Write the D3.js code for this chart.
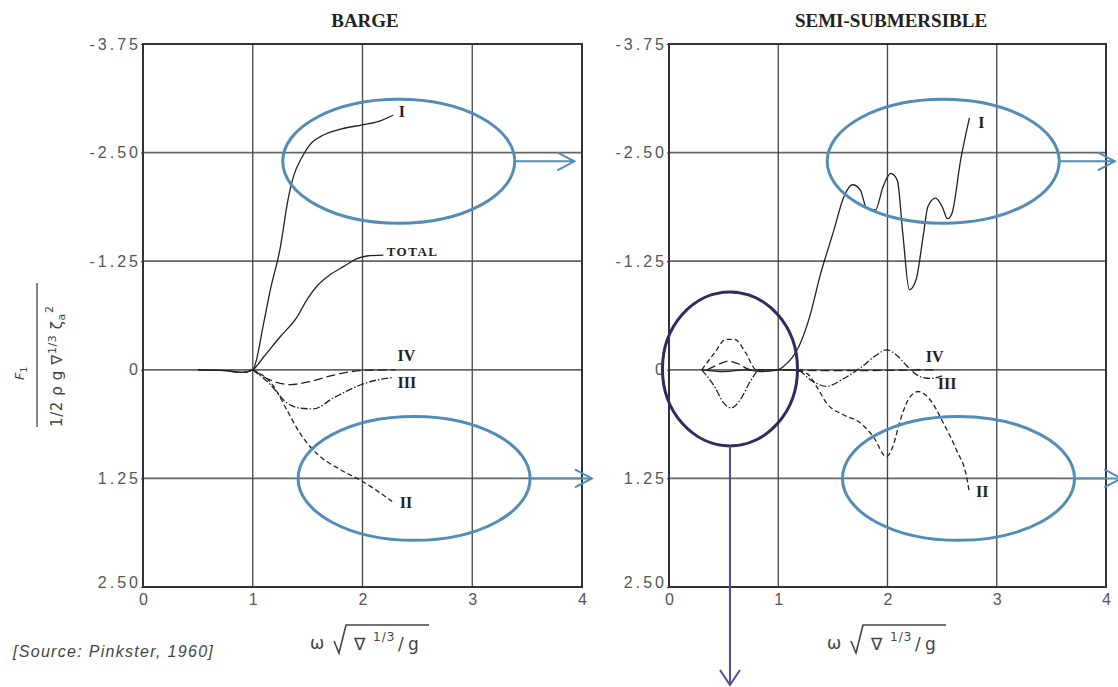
<!DOCTYPE html>
<html>
<head>
<meta charset="utf-8">
<script src="https://cdn.jsdelivr.net/npm/d3@7"></script>
<style>
  body { margin: 0; background: #fff; }
  svg { display: block; }
</style>
</head>
<body>
<div id="chart"></div>
<script>
// ---- axis ticks ----
const xTicks = [0, 1, 2, 3, 4];
const yTicks = [-3.75, -2.5, -1.25, 0, 1.25, 2.5];
const yTickLabels = ["-3.75", "-2.50", "-1.25", "0", "1.25", "2.50"];

// ---- BARGE curves [omega, F] ----
const bargeI = [[0.5, 0], [0.75, 0.01], [0.9, 0.03], [1.0, 0], [1.1, -0.54], [1.16, -0.92], [1.25, -1.4],
  [1.32, -1.95], [1.37, -2.22], [1.45, -2.45], [1.52, -2.59], [1.64, -2.7], [1.8, -2.77], [2.0, -2.82],
  [2.15, -2.86], [2.28, -2.93]];
const bargeTotal = [[0.5, 0], [0.75, 0.01], [0.9, 0.03], [1.0, 0], [1.1, -0.15], [1.25, -0.38], [1.4, -0.6],
  [1.5, -0.82], [1.59, -0.97], [1.7, -1.09], [1.83, -1.19], [1.95, -1.28], [2.04, -1.31], [2.19, -1.32]];
const bargeII = [[1.0, 0], [1.19, 0.19], [1.31, 0.46], [1.43, 0.73], [1.58, 0.96], [1.8, 1.15], [2.0, 1.285], [2.27, 1.515]];
const bargeIII = [[1.0, 0], [1.16, 0.17], [1.31, 0.38], [1.43, 0.44], [1.55, 0.45], [1.74, 0.32], [1.98, 0.175],
  [2.16, 0.11], [2.28, 0.09]];
const bargeIV = [[1.0, 0], [1.13, 0.1], [1.34, 0.17], [1.52, 0.135], [1.74, 0.06], [1.98, 0.01], [2.3, 0]];

// ---- SEMI-SUBMERSIBLE curves ----
const semiI = [[0.3, 0], [0.5, 0.02], [0.7, 0], [0.85, 0.02], [1.0, 0], [1.05, -0.04], [1.19, -0.27], [1.29, -0.62],
  [1.38, -1.07], [1.51, -1.61], [1.6, -1.99], [1.68, -2.13], [1.75, -2.07], [1.81, -1.86], [1.89, -1.84],
  [1.96, -2.11], [2.03, -2.26], [2.09, -2.18], [2.14, -1.57], [2.2, -0.92], [2.26, -1.03], [2.33, -1.57],
  [2.37, -1.88], [2.44, -1.975], [2.5, -1.88], [2.55, -1.74], [2.59, -1.8], [2.67, -2.42], [2.75, -2.9]];
const semiII = [[0.3, 0], [0.42, -0.2], [0.52, -0.35], [0.6, -0.35], [0.7, -0.2], [0.8, 0], [1.1, 0], [1.26, 0.04],
  [1.35, 0.19], [1.44, 0.38], [1.6, 0.52], [1.75, 0.61], [1.87, 0.77], [1.99, 1.0], [2.05, 0.88], [2.11, 0.61],
  [2.19, 0.345], [2.28, 0.25], [2.39, 0.345], [2.51, 0.61], [2.63, 0.92], [2.73, 1.27], [2.75, 1.42]];
const semiIII = [[0.3, 0], [0.42, 0.2], [0.5, 0.38], [0.57, 0.44], [0.65, 0.35], [0.75, 0.12], [0.83, 0], [1.17, 0],
  [1.3, 0.12], [1.44, 0.19], [1.6, 0.1], [1.75, -0.02], [1.9, -0.17], [1.99, -0.23], [2.1, -0.15], [2.18, -0.04],
  [2.3, 0.08], [2.4, 0.1], [2.5, 0.07]];
const semiIV = [[0.35, 0], [0.45, -0.06], [0.54, -0.1], [0.63, -0.07], [0.75, 0], [1.0, 0], [1.5, 0.01], [2.45, 0]];

// line styles
const dashes = { solid: null, II: "5,3", III: "7,2,1.5,2", IV: "9,4" };

const W = 1118, H = 687;
const svg = d3.select("#chart").append("svg").attr("width", W).attr("height", H);

const y = d3.scaleLinear().domain([-3.75, 2.5]).range([44, 587]);

const serif = "Liberation Serif, Times New Roman, serif";
const sans = "Liberation Sans, Arial, sans-serif";

const panels = [
  {
    title: "BARGE", left: 143, right: 582, titleX: 365, omegaX: 310,
    series: [
      { data: bargeI, dash: dashes.solid }, { data: bargeTotal, dash: dashes.solid },
      { data: bargeII, dash: dashes.II }, { data: bargeIII, dash: dashes.III }, { data: bargeIV, dash: dashes.IV }
    ],
    labels: [["I", 2.33, -2.97], ["TOTAL", 2.22, -1.36], ["IV", 2.32, -0.17], ["III", 2.32, 0.14], ["II", 2.34, 1.53]]
  },
  {
    title: "SEMI-SUBMERSIBLE", left: 669, right: 1106, titleX: 891, omegaX: 827,
    series: [
      { data: semiI, dash: dashes.solid }, { data: semiII, dash: dashes.II },
      { data: semiIII, dash: dashes.III }, { data: semiIV, dash: dashes.IV }
    ],
    labels: [["I", 2.83, -2.85], ["IV", 2.35, -0.15], ["III", 2.46, 0.16], ["II", 2.81, 1.4]]
  }
];

panels.forEach(p => {
  const x = d3.scaleLinear().domain([0, 4]).range([p.left, p.right]);
  p.x = x;
  const g = svg.append("g");

  // title
  g.append("text").attr("x", p.titleX).attr("y", 27).attr("text-anchor", "middle")
    .attr("font-family", serif).attr("font-weight", "bold")
    .attr("font-size", 19).attr("fill", "#222").text(p.title);

  // grid
  g.append("g").selectAll("line").data(yTicks.slice(1, -1)).join("line")
    .attr("x1", x(0)).attr("x2", x(4)).attr("y1", d => y(d)).attr("y2", d => y(d))
    .attr("stroke", "#666").attr("stroke-width", 1.8);
  g.append("g").selectAll("line").data(xTicks.slice(1, -1)).join("line")
    .attr("y1", y(-3.75)).attr("y2", y(2.5)).attr("x1", d => x(d)).attr("x2", d => x(d))
    .attr("stroke", "#444").attr("stroke-width", 1.3);
  g.append("rect").attr("x", x(0)).attr("y", y(-3.75)).attr("width", x(4) - x(0)).attr("height", y(2.5) - y(-3.75))
    .attr("fill", "none").attr("stroke", "#333").attr("stroke-width", 2);

  // axes (labels only)
  const yAxis = d3.axisLeft(y).tickValues(yTicks).tickSize(2).tickPadding(0)
    .tickFormat((d, i) => yTickLabels[i]);
  const ya = g.append("g").attr("transform", `translate(${x(0)},0)`).call(yAxis);
  const xAxis = d3.axisBottom(x).tickValues(xTicks).tickSize(0).tickPadding(7).tickFormat(d3.format("d"));
  const xa = g.append("g").attr("transform", `translate(0,${y(2.5)})`).call(xAxis);
  [ya, xa].forEach(a => {
    a.select(".domain").remove();
    a.selectAll("line").attr("stroke", "#333");
    a.selectAll("text").attr("font-family", sans).attr("font-size", 16)
      .attr("fill", "#555").attr("letter-spacing", 3);
  });
  xa.selectAll("text").attr("letter-spacing", 0);
  // bottom label sits a little above the frame corner, as in the original
  ya.selectAll("text").filter(d => d === 2.5).attr("dy", "0.05em");

  // curves
  const line = d3.line().x(d => x(d[0])).y(d => y(d[1])).curve(d3.curveMonotoneX);
  g.append("g").selectAll("path").data(p.series).join("path")
    .attr("d", d => line(d.data)).attr("fill", "none").attr("stroke", "#222").attr("stroke-width", 1.3)
    .attr("stroke-dasharray", d => d.dash);

  // curve labels
  g.append("g").selectAll("text").data(p.labels).join("text")
    .attr("x", d => x(d[1])).attr("y", d => y(d[2])).attr("dy", "0.35em")
    .attr("font-family", serif).attr("font-weight", "bold")
    .attr("font-size", d => d[0] === "TOTAL" ? 13 : 16)
    .attr("letter-spacing", d => d[0] === "TOTAL" ? 1.5 : 0)
    .attr("fill", "#222").text(d => d[0]);

  // x axis title: omega sqrt(nabla^(1/3)/g)
  const ox = p.omegaX;
  const t = g.append("g").attr("font-family", "DejaVu Sans, sans-serif").attr("fill", "#444");
  t.append("text").attr("x", ox).attr("y", 649).attr("font-size", 17).text("ω");
  t.append("path").attr("d", `M${ox + 24},641 L${ox + 29},653 L${ox + 36},625 L${ox + 119},625`)
    .attr("fill", "none").attr("stroke", "#444").attr("stroke-width", 1.6);
  t.append("text").attr("x", ox + 44).attr("y", 650).attr("font-size", 17).text("∇");
  t.append("text").attr("x", ox + 63).attr("y", 641).attr("font-size", 12).attr("letter-spacing", 1).text("1/3");
  t.append("text").attr("x", ox + 88).attr("y", 650).attr("font-size", 17).text("/");
  t.append("text").attr("x", ox + 98).attr("y", 650).attr("font-size", 17).text("g");
});

// y axis title (rotated fraction)
const yt = svg.append("g").attr("transform", "translate(37,355) rotate(-90)")
  .attr("font-family", "DejaVu Sans, sans-serif").attr("fill", "#444");
yt.append("line").attr("x1", -72).attr("x2", 72).attr("stroke", "#444").attr("stroke-width", 1.3);
const num = yt.append("text").attr("x", -25).attr("y", -13).attr("font-size", 13);
num.append("tspan").attr("font-style", "italic").text("F");
num.append("tspan").attr("dy", 3).attr("font-size", 9).text("1");
const den = yt.append("text").attr("x", -72).attr("y", 25).attr("font-size", 15).attr("letter-spacing", 0.6);
den.append("tspan").text("1/2 ρ g ∇");
den.append("tspan").attr("dy", -6).attr("font-size", 11).text("1/3");
den.append("tspan").attr("dy", 6).text(" ζ");
den.append("tspan").attr("dy", 3).attr("font-size", 11).text("a");
den.append("tspan").attr("dy", -12).attr("font-size", 11).text("2");

// source note
svg.append("text").attr("x", 13).attr("y", 657)
  .attr("font-family", sans).attr("font-style", "italic").attr("letter-spacing", 1.3)
  .attr("font-size", 16).attr("fill", "#444").text("[Source: Pinkster, 1960]");

// ---- annotation overlays (in data units of each panel) ----
const blue = "#528cb8", navy = "#2e2d60", navyArrow = "#4e4f98";
const ovals = [
  { panel: 0, cx: 2.33, cy: -2.4, rx: 1.057, ry: 0.713, tip: 3.93 },
  { panel: 0, cx: 2.47, cy: 1.25, rx: 1.057, ry: 0.713, tip: 4.09 },
  { panel: 1, cx: 2.51, cy: -2.4, rx: 1.062, ry: 0.713, tip: 4.08 },
  { panel: 1, cx: 2.65, cy: 1.25, rx: 1.062, ry: 0.713, tip: 4.14 }
];
const ann = svg.append("g");
ovals.forEach(o => {
  const x = panels[o.panel].x;
  const px = x(o.cx), py = y(o.cy), prx = x(o.cx + o.rx) - px, pry = y(o.cy + o.ry) - py;
  ann.append("ellipse").attr("cx", px).attr("cy", py).attr("rx", prx).attr("ry", pry)
    .attr("fill", "none").attr("stroke", blue).attr("stroke-width", 3);
  const tx = x(o.tip);
  ann.append("line").attr("x1", px + prx).attr("x2", tx).attr("y1", py).attr("y2", py)
    .attr("stroke", blue).attr("stroke-width", 2);
  ann.append("path").attr("d", `M${tx - 17},${py - 9} L${tx},${py} L${tx - 17},${py + 9}`)
    .attr("fill", "none").attr("stroke", blue).attr("stroke-width", 2);
});

// dark oval around low-frequency semi-sub region, arrow pointing down
const sx = panels[1].x;
const dcx = sx(0.558), dcy = y(-0.01), drx = sx(0.558 + 0.618) - dcx, dry = y(-0.01 + 0.886) - dcy;
ann.append("ellipse").attr("cx", dcx).attr("cy", dcy).attr("rx", drx).attr("ry", dry)
  .attr("fill", "none").attr("stroke", navy).attr("stroke-width", 3);
ann.append("line").attr("x1", dcx).attr("x2", dcx).attr("y1", dcy + dry).attr("y2", 685)
  .attr("stroke", navyArrow).attr("stroke-width", 2);
ann.append("path").attr("d", `M${dcx - 10},${670} L${dcx},${685} L${dcx + 10},${670}`)
  .attr("fill", "none").attr("stroke", navyArrow).attr("stroke-width", 2);
</script>
</body>
</html>
